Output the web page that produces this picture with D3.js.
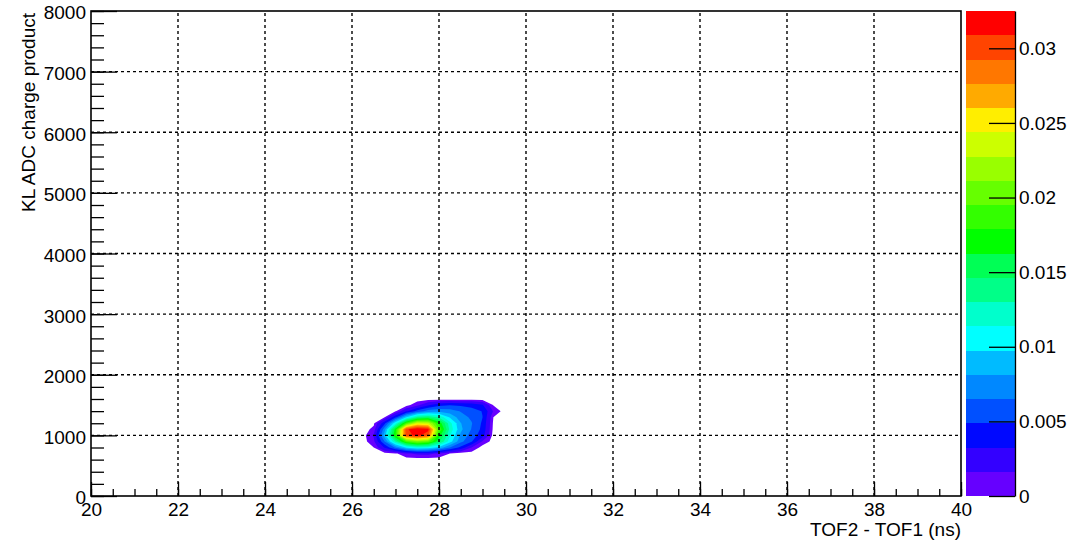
<!DOCTYPE html>
<html>
<head>
<meta charset="utf-8">
<script src="https://cdn.jsdelivr.net/npm/d3@7"></script>
<style>
body { margin: 0; background: #fff; }
svg text { font-family: "Liberation Sans", Arial, sans-serif; font-size: 19px; fill: #000; }
</style>
</head>
<body>
<div class="container"></div>
<script>
// histogram bin centres: TOF difference (ns) and KL ADC charge product
const tofBins = [26.0, 26.25, 26.5, 26.75, 27.0, 27.25, 27.5, 27.75, 28.0, 28.25, 28.5, 28.75, 29.0, 29.25, 29.5, 29.75]
const adcBins = [1700, 1600, 1500, 1400, 1300, 1200, 1100, 1000, 900, 800, 700, 600, 500]
// bin contents (x 1e-3), one row per adcBins entry
const zRows = [
    [0, 0, 0, 0, 0, 0, 0, 0, 0, 0, 0, 0, 0, 0, 0, 0],
    [0, 0, 0, 0, 0, 0, 0, 0, 0, 0, 0, 0, 0, 0, 0, 0],
    [0, 0, 0, 0, 0, 0.1, 1.2, 3.0, 4.4, 4.8, 4.6, 4.3, 3.4, 0.4, 0, 0],
    [0, 0, 0, 0, 0.4, 3.0, 5.5, 7.2, 7.6, 7.2, 6.4, 5.6, 4.8, 1.5, 0, 0],
    [0, 0, 0, 0.5, 4.4, 9.8, 13.5, 14.5, 12.8, 9.5, 7.2, 6.2, 4.9, 0.5, 0, 0],
    [0, 0, 0.3, 4.4, 11.0, 19.0, 24.0, 23.5, 17.5, 12.0, 8.2, 6.6, 4.6, 0.3, 0, 0],
    [0, 0, 0.8, 7.5, 17.0, 30.5, 32.4, 31.5, 19.5, 12.5, 8.5, 6.4, 4.4, 0.2, 0, 0],
    [0, 0, 1.8, 9.0, 18.0, 30.0, 31.5, 29.5, 17.0, 11.5, 7.8, 5.8, 3.9, 0, 0, 0],
    [0, 0, 1.3, 6.5, 13.0, 19.0, 21.0, 20.0, 15.0, 10.5, 7.0, 5.0, 1.4, 0, 0, 0],
    [0, 0, 0.5, 3.4, 6.8, 10.0, 11.5, 11.0, 9.2, 6.5, 4.4, 1.6, 0, 0, 0, 0],
    [0, 0, 0, 0, 0.3, 1.4, 1.9, 2.0, 1.4, 0.5, 0, 0, 0, 0, 0, 0],
    [0, 0, 0, 0, 0, 0, 0, 0, 0, 0, 0, 0, 0, 0, 0, 0],
    [0, 0, 0, 0, 0, 0, 0, 0, 0, 0, 0, 0, 0, 0, 0, 0]
]
const zMax = 0.0325
const zFloor = 0.0005
const palette = ['#6600ff', '#3300ff', '#0008ff', '#0050ff', '#0088ff', '#00bbff', '#00ffff', '#00ffcc',
    '#00ff88', '#00ff55', '#00ff00', '#33ff00', '#66ff00', '#99ff00', '#ccff00', '#ffee00',
    '#ffaa00', '#ff7700', '#ff4400', '#ff0000']
const xTicks = [20, 22, 24, 26, 28, 30, 32, 34, 36, 38, 40]
const yTicks = [0, 1000, 2000, 3000, 4000, 5000, 6000, 7000, 8000]
const zTicks = [0, 0.005, 0.01, 0.015, 0.02, 0.025, 0.03]
const zTickLabels = ['0', '0.005', '0.01', '0.015', '0.02', '0.025', '0.03']
const xTitle = 'TOF2 - TOF1 (ns)'
const yTitle = 'KL ADC charge product'

let width = 1073
let height = 542
let frame = { left: 91, right: 961, top: 11, bottom: 496 }
let bar = { left: 966, right: 1015 }

let svg = d3.select('.container')
    .append('svg')
    .attr('width', width)
    .attr('height', height)

let xScale = d3.scaleLinear().domain([20, 40]).range([frame.left, frame.right])
let yScale = d3.scaleLinear().domain([0, 8000]).range([frame.bottom, frame.top])
let zScale = d3.scaleLinear().domain([0, zMax]).range([frame.bottom, frame.top])

// filled contours
let nx = tofBins.length
let ny = adcBins.length
let values = zRows.flat().map((v) => v / 1000)
let levels = palette.map((c, i) => i === 0 ? zFloor : i * zMax / palette.length)
let contours = d3.contours().size([nx, ny]).thresholds(levels)(values)

let colIndex = d3.scaleLinear().domain([0, nx - 1]).range([tofBins[0], tofBins[nx - 1]])
let rowIndex = d3.scaleLinear().domain([0, ny - 1]).range([adcBins[0], adcBins[ny - 1]])
let project = d3.geoTransform({
    point: function (px, py) {
        this.stream.point(xScale(colIndex(px - 0.5)), yScale(rowIndex(py - 0.5)))
    }
})
let path = d3.geoPath(project)

svg.append('g')
    .selectAll('path')
    .data(contours)
    .enter()
    .append('path')
    .attr('d', path)
    .attr('fill', (d, i) => palette[i])

// dotted grid
let grid = svg.append('g')
    .attr('stroke', '#000')
    .attr('stroke-width', 1.4)
    .attr('stroke-dasharray', '3,3')
grid.selectAll('.gx')
    .data(xTicks.slice(1, -1))
    .enter()
    .append('line')
    .attr('x1', (d) => xScale(d))
    .attr('x2', (d) => xScale(d))
    .attr('y1', frame.bottom)
    .attr('y2', frame.top)
grid.selectAll('.gy')
    .data(yTicks.slice(1, -1))
    .enter()
    .append('line')
    .attr('x1', frame.left)
    .attr('x2', frame.right)
    .attr('y1', (d) => yScale(d))
    .attr('y2', (d) => yScale(d))

// axes with inward ticks
let tidy = (g) => {
    g.select('.domain').remove()
    g.selectAll('line').attr('stroke', '#000').attr('stroke-width', 1.3)
}

svg.append('g')
    .attr('transform', `translate(0,${frame.bottom})`)
    .call(d3.axisBottom(xScale).tickValues(d3.range(20, 40.01, 0.5)).tickSizeInner(-7).tickSizeOuter(0).tickFormat(''))
    .call(tidy)
svg.append('g')
    .attr('transform', `translate(0,${frame.bottom})`)
    .call(d3.axisBottom(xScale).tickValues(xTicks).tickSizeInner(-14).tickSizeOuter(0).tickPadding(6.5).tickFormat(d3.format('')))
    .call(tidy)

svg.append('g')
    .attr('transform', `translate(${frame.left},0)`)
    .call(d3.axisLeft(yScale).tickValues(d3.range(0, 8001, 200)).tickSizeInner(-13).tickSizeOuter(0).tickFormat(''))
    .call(tidy)
svg.append('g')
    .attr('transform', `translate(${frame.left},0)`)
    .call(d3.axisLeft(yScale).tickValues(yTicks).tickSizeInner(-26).tickSizeOuter(0).tickPadding(5).tickFormat(d3.format('')))
    .call(tidy)
    .call((g) => g.selectAll('text').attr('dy', '0.42em'))

svg.append('rect')
    .attr('x', frame.left)
    .attr('y', frame.top)
    .attr('width', frame.right - frame.left)
    .attr('height', frame.bottom - frame.top)
    .attr('fill', 'none')
    .attr('stroke', '#000')
    .attr('stroke-width', 1.6)

// colour bar
svg.append('g')
    .selectAll('rect')
    .data(palette)
    .enter()
    .append('rect')
    .attr('x', bar.left)
    .attr('width', bar.right - bar.left)
    .attr('y', (d, i) => zScale((i + 1) * zMax / palette.length))
    .attr('height', (d, i) => zScale(i * zMax / palette.length) - zScale((i + 1) * zMax / palette.length))
    .attr('fill', (d) => d)
    .attr('shape-rendering', 'crispEdges')

svg.append('g')
    .attr('transform', `translate(${bar.right},0)`)
    .call(d3.axisRight(zScale).tickValues(zTicks).tickSizeInner(-26).tickSizeOuter(0).tickPadding(4)
        .tickFormat((d, i) => zTickLabels[i]))
    .call((g) => g.selectAll('line').attr('stroke', '#000').attr('stroke-width', 1.3))
    .call((g) => g.select('.domain').attr('stroke', '#000').attr('stroke-width', 1.3))

// titles
svg.append('text')
    .attr('x', frame.right)
    .attr('y', 536)
    .attr('text-anchor', 'end')
    .text(xTitle)

svg.append('text')
    .attr('transform', 'translate(35,13) rotate(-90)')
    .attr('text-anchor', 'end')
    .text(yTitle)
</script>
</body>
</html>
